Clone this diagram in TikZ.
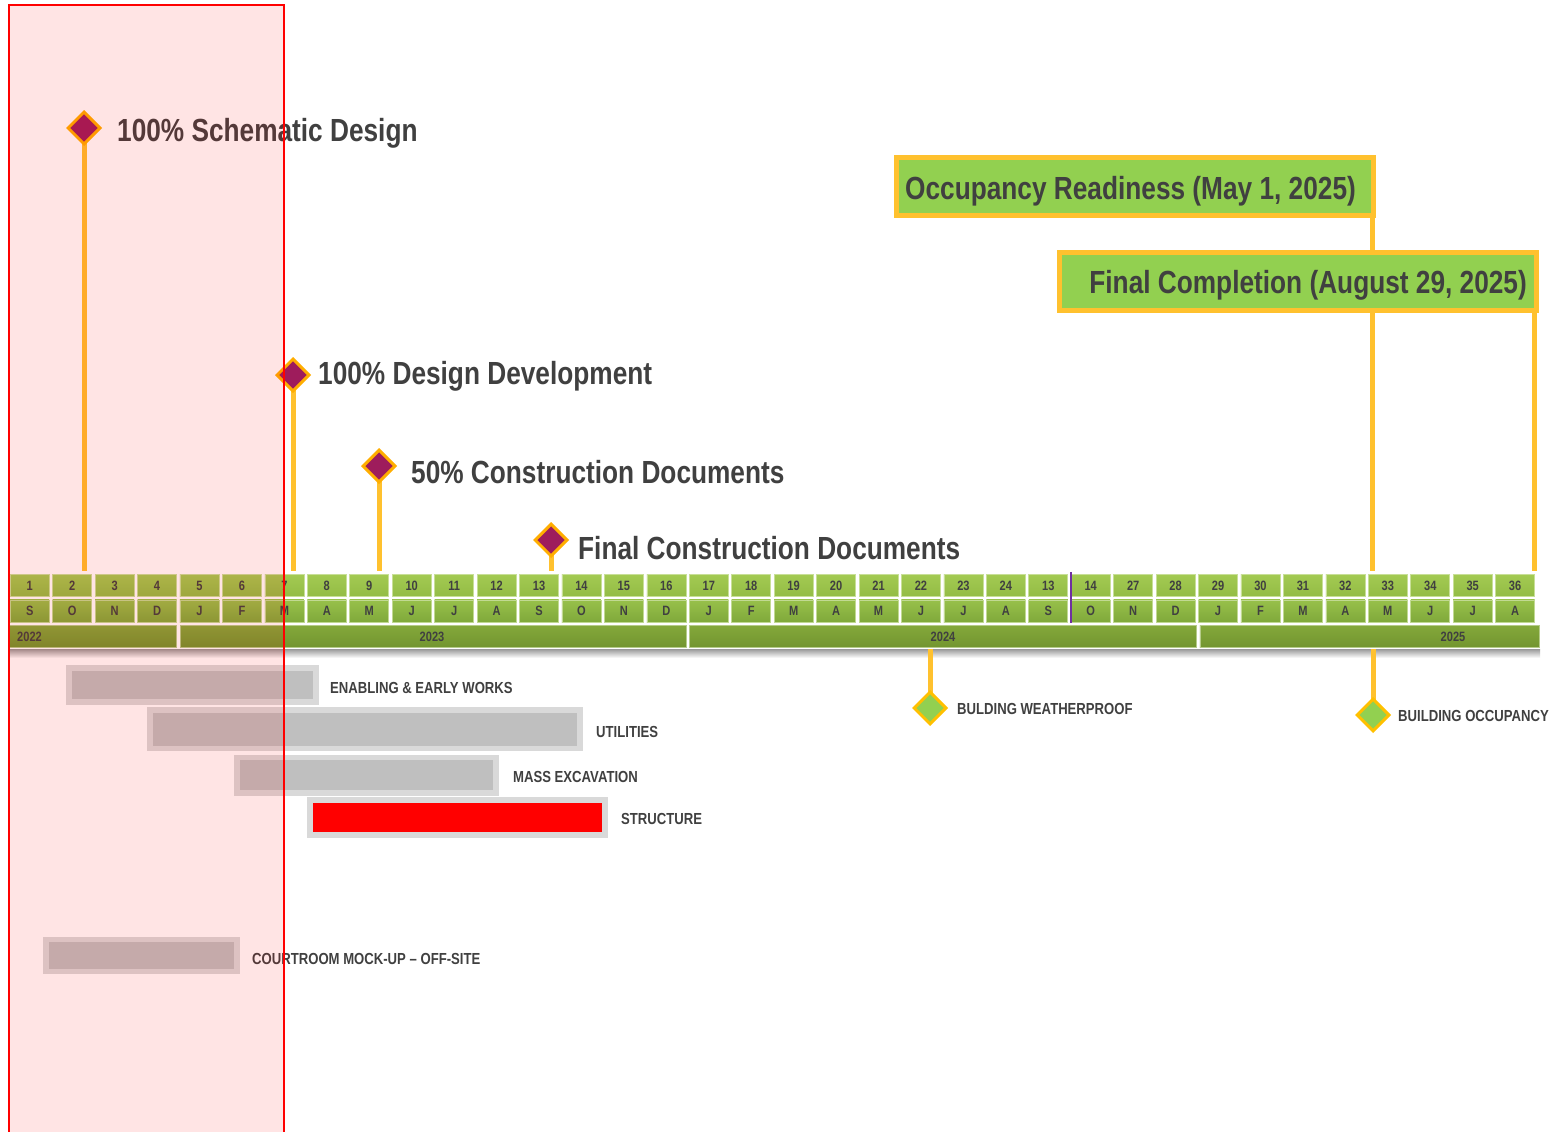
\documentclass[tikz,border=0pt]{standalone}
\usepackage{fontspec}
\newfontfamily\narrow{Liberation Sans}[FakeStretch=0.82]
\usetikzlibrary{shapes.geometric}
\definecolor{txt}{HTML}{404040}
\definecolor{stemc}{HTML}{FFC12E}
\definecolor{plum}{HTML}{9E1C5C}
\definecolor{goldb}{HTML}{FFAE00}
\definecolor{yellb}{HTML}{FFC000}
\definecolor{lgreen}{HTML}{92D050}
\definecolor{rowAt}{HTML}{A3CA52}
\definecolor{rowAb}{HTML}{93BC45}
\definecolor{rowBt}{HTML}{97C04A}
\definecolor{rowBb}{HTML}{80A93B}
\definecolor{rowCt}{HTML}{84A83B}
\definecolor{rowCb}{HTML}{72952F}
\definecolor{barout}{HTML}{D9D9D9}
\definecolor{barin}{HTML}{BFBFBF}
\definecolor{purp}{HTML}{7030A0}
\pgfdeclarelayer{back}
\pgfsetlayers{back,main}
\tikzset{
  cellA/.style={shade, top color=rowAt, bottom color=rowAb, draw=rowAt!60!white, line width=0.6,
    minimum width=39, minimum height=22.4, inner sep=0, text=txt,
    font=\narrow\bfseries\fontsize{13.5}{13.5}\selectfont},
  cellB/.style={cellA, top color=rowBt, bottom color=rowBb, draw=rowBt!60!white},
  yearcell/.style={shade, top color=rowCt, bottom color=rowCb, draw=rowCt!60!white, line width=0.6,
    minimum height=22.4, inner sep=0},
  yeartxt/.style={text=txt, inner sep=0, font=\narrow\bfseries\fontsize{13.5}{13.5}\selectfont},
  bigtxt/.style={text=txt, inner sep=0, font=\narrow\bfseries\fontsize{32}{34}\selectfont},
  smalltxt/.style={text=txt, inner sep=0, font=\narrow\bfseries\fontsize{16}{18}\selectfont},
  pdia/.style={diamond, aspect=1, fill=plum, draw=goldb, line width=3, minimum width=33, minimum height=33, inner sep=0},
  gdia/.style={diamond, aspect=1, fill=lgreen, draw=yellb, line width=3, minimum width=33, minimum height=33, inner sep=0},
  stemline/.style={draw=stemc, line width=5},
  callout/.style={fill=lgreen, draw=stemc, line width=5, minimum width=477, minimum height=58, inner sep=0},
  outbar/.style={fill=barout, inner sep=0},
  inbar/.style={fill=barin, inner sep=0},
}
\begin{document}
\begin{tikzpicture}[x=1pt,y=-1pt]
\useasboundingbox (0,0) rectangle (1561,1132);
\begin{pgfonlayer}{back}
\fill[white] (0,0) rectangle (1561,1132);
\shade[top color=black!40, bottom color=white] (9,649) rectangle (1540,658);
\end{pgfonlayer}

% ---------- timeline ----------
\foreach \n [count=\k] in {1,2,3,4,5,6,7,8,9,10,11,12,13,14,15,16,17,18,19,20,21,22,23,24,13,14,27,28,29,30,31,32,33,34,35,36} {
  \pgfmathsetmacro\cx{10+(\k-0.5)*42.44-1.5}
  \node[cellA] (w\k) at (\cx,585.5) {\n};
}
\foreach \m [count=\k] in {S,O,N,D,J,F,M,A,M,J,J,A,S,O,N,D,J,F,M,A,M,J,J,A,S,O,N,D,J,F,M,A,M,J,J,A} {
  \pgfmathsetmacro\cx{10+(\k-0.5)*42.44-1.5}
  \node[cellB] (m\k) at (\cx,611) {\m};
}
\node[yearcell, minimum width=167.2] (y2022) at (92.9,636.5) {};
\node[yearcell, minimum width=505.9] (y2023) at (433.0,636.5) {};
\node[yearcell, minimum width=506.7] (y2024) at (943.0,636.5) {};
\node[yearcell, minimum width=339.8] (y2025) at (1369.8,636.5) {};
\node[yeartxt, anchor=west] (t2022) at (17,636.5) {2022};
\node[yeartxt] (t2023) at (432,636.5) {2023};
\node[yeartxt] (t2024) at (943,636.5) {2024};
\node[yeartxt] (t2025) at (1453,636.5) {2025};
\coordinate (pv1) at (1070.5,572);
\coordinate (pv2) at (1070.5,623);
\draw[purp, line width=2] (pv1) -- (pv2);

% ---------- upper milestones ----------
\node[pdia] (d1) at (84,128) {};
\node[pdia] (d2) at (293,375) {};
\node[pdia] (d3) at (379,466) {};
\node[pdia] (d4) at (551,540) {};
\coordinate (e1) at (84,571);
\coordinate (e2) at (293,571);
\coordinate (e3) at (379,571);
\coordinate (e4) at (551,571);
\begin{pgfonlayer}{back}
\draw[stemline] (d1.center) -- (e1);
\draw[stemline] (d2.center) -- (e2);
\draw[stemline] (d3.center) -- (e3);
\draw[stemline] (d4.center) -- (e4);
\end{pgfonlayer}
\node[bigtxt, anchor=base west] (l1) at (117,141) {100\% Schematic Design};
\node[bigtxt, anchor=base west] (l2) at (318,384) {100\% Design Development};
\node[bigtxt, anchor=base west] (l3) at (411,483) {50\% Construction Documents};
\node[bigtxt, anchor=base west] (l4) at (578,559) {Final Construction Documents};

% ---------- callouts ----------
\node[callout] (occ) at (1135,186.5) {};
\node[bigtxt, anchor=base west] (occt) at (905,199) {Occupancy Readiness (May 1, 2025)};
\node[callout] (fin) at (1297.5,281.5) {};
\node[bigtxt, anchor=base east] (fint) at (1527,293) {Final Completion (August 29, 2025)};
\coordinate (e33) at (1372,571);
\coordinate (e36) at (1534,571);
\begin{pgfonlayer}{back}
\draw[stemline] (occ.south -| e33) -- (fin.north -| e33);
\draw[stemline] (fin.south -| e33) -- (e33);
\draw[stemline] (fin.south -| e36) -- (e36);
\end{pgfonlayer}

% ---------- lower milestones ----------
\coordinate (s1) at (930,649);
\coordinate (s2) at (1373,649);
\node[gdia] (g1) at (930,708) {};
\node[gdia] (g2) at (1373,715) {};
\begin{pgfonlayer}{back}
\draw[stemline] (s1) -- (g1.center);
\draw[stemline] (s2) -- (g2.center);
\end{pgfonlayer}
\node[smalltxt, anchor=base west] (gl1) at (957,714) {BULDING WEATHERPROOF};
\node[smalltxt, anchor=base west] (gl2) at (1398,721) {BUILDING OCCUPANCY};

% ---------- bars ----------
\node[outbar, minimum width=253, minimum height=40] (b1o) at (192.5,685) {};
\node[inbar, minimum width=241, minimum height=28] (b1) at (192.5,685) {};
\node[smalltxt, anchor=base west] (b1l) at (330,693) {ENABLING \& EARLY WORKS};

\node[outbar, minimum width=436, minimum height=44] (b2o) at (365,729) {};
\node[inbar, minimum width=424, minimum height=33] (b2) at (365,729.5) {};
\node[smalltxt, anchor=base west] (b2l) at (596,737) {UTILITIES};

\node[outbar, minimum width=265, minimum height=41] (b3o) at (366.5,775.5) {};
\node[inbar, minimum width=253, minimum height=30] (b3) at (366.5,775) {};
\node[smalltxt, anchor=base west] (b3l) at (513,782) {MASS EXCAVATION};

\node[outbar, minimum width=301, minimum height=41] (b4o) at (457.5,817.5) {};
\node[fill=red, inner sep=0, minimum width=289, minimum height=29] (b4) at (457.5,817.5) {};
\node[smalltxt, anchor=base west] (b4l) at (621,824) {STRUCTURE};

\node[outbar, minimum width=197, minimum height=37] (b5o) at (141.5,955.5) {};
\node[inbar, minimum width=185, minimum height=27] (b5) at (141.5,955.5) {};
\node[smalltxt, anchor=base west] (b5l) at (252,964) {COURTROOM MOCK-UP – OFF-SITE};

% ---------- highlight overlay ----------
\fill[red, fill opacity=0.105] (9,5) rectangle (284,1140);
\draw[red, line width=2] (9,1140) -- (9,5) -- (284,5) -- (284,1140);
\end{tikzpicture}
\end{document}
